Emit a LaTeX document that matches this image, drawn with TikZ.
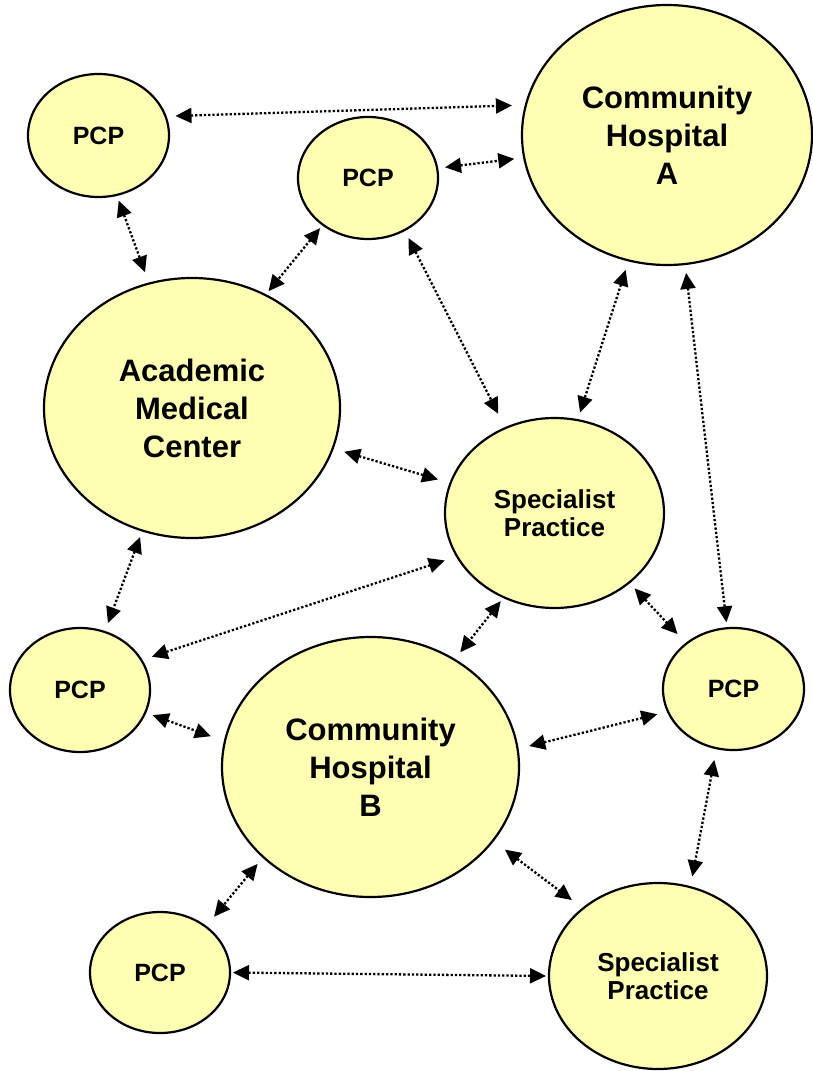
\documentclass[tikz,border=0pt]{standalone}
\usepackage{fontspec}
\setmainfont{Liberation Sans}
\usetikzlibrary{shapes.geometric,arrows.meta}
\definecolor{nodefill}{RGB}{255,255,180}
\begin{document}
\begin{tikzpicture}[x=1pt,y=-1pt,
  orgnode/.style={ellipse, draw=black, line width=2.2pt, fill=nodefill, inner sep=0pt, outer sep=0pt, align=center},
  bigtext/.style={font=\fontsize{31}{38}\selectfont\bfseries},
  midtext/.style={font=\fontsize{26}{28}\selectfont\bfseries},
  smalltext/.style={font=\fontsize{25}{30}\selectfont\bfseries},
  link/.style={line width=2.3pt, dash pattern=on 2.3pt off 2pt,
    {Triangle[length=16pt,width=15pt]}-{Triangle[length=16pt,width=15pt]}},
]
\useasboundingbox (0,0) rectangle (812,1071);

\node[orgnode, smalltext, minimum width=141pt, minimum height=123pt] (pcpA) at (98.5,135.5) {PCP};
\node[orgnode, smalltext, minimum width=140pt, minimum height=122pt] (pcpB) at (368,178) {PCP};
\node[orgnode, bigtext, minimum width=290pt, minimum height=260pt] (chA) at (667,135) {Community\\Hospital\\A};
\node[orgnode, bigtext, minimum width=296pt, minimum height=260pt] (amc) at (192,408) {Academic\\Medical\\Center};
\node[orgnode, midtext, minimum width=219pt, minimum height=190pt] (spA) at (554.5,513) {Specialist\\Practice};
\node[orgnode, smalltext, minimum width=140pt, minimum height=124pt] (pcpC) at (80,690) {PCP};
\node[orgnode, bigtext, minimum width=297pt, minimum height=260pt] (chB) at (370.5,767) {Community\\Hospital\\B};
\node[orgnode, smalltext, minimum width=141pt, minimum height=122pt] (pcpD) at (733.5,689) {PCP};
\node[orgnode, smalltext, minimum width=140pt, minimum height=121pt] (pcpE) at (160,972.5) {PCP};
\node[orgnode, midtext, minimum width=218pt, minimum height=186pt] (spB) at (658,976) {Specialist\\Practice};

\draw[link, shorten <=10pt, shorten >=14pt] (pcpA.16.4) -- (chA.168.8);
\draw[link, shorten <=8pt, shorten >=10pt] (pcpB.8.1) -- (chA.189.7);
\draw[link, shorten <=6pt, shorten >=12pt] (pcpA.287.4) -- (amc.109.1);
\draw[link, shorten <=4.5pt, shorten >=5pt] (pcpB.226.2) -- (amc.57.6);
\draw[link, shorten <=9pt, shorten >=16pt] (pcpB.305.4) -- (spA.120.3);
\draw[link, shorten <=10pt, shorten >=8pt] (chA.253.5) -- (spA.76.9);
\draw[link, shorten <=9pt, shorten >=6pt] (chA.278.7) -- (pcpD.96.4);
\draw[link, shorten <=12pt, shorten >=13pt] (amc.344.6) -- (spA.164.2);
\draw[link, shorten <=7pt, shorten >=9.5pt] (amc.248.1) -- (pcpC.67.3);
\draw[link, shorten <=13pt, shorten >=11pt] (spA.204.1) -- (pcpC.26.2);
\draw[link, shorten <=5pt, shorten >=9.5pt] (spA.239.5) -- (chB.52.1);
\draw[link, shorten <=8pt, shorten >=13pt] (spA.317) -- (pcpD.136.3);
\draw[link, shorten <=8pt, shorten >=15pt] (pcpC.341.1) -- (chB.170.5);
\draw[link, shorten <=11pt, shorten >=12pt] (pcpD.199) -- (chB.7.9);
\draw[link, shorten <=12pt, shorten >=11pt] (pcpD.254.6) -- (spB.70);
\draw[link, shorten <=9pt, shorten >=13pt] (chB.220.2) -- (pcpE.45.8);
\draw[link, shorten <=15pt, shorten >=14pt] (chB.329.1) -- (spB.138);
\draw[link, shorten <=3pt, shorten >=3pt] (pcpE.0) -- (spB.180.5);
\end{tikzpicture}
\end{document}
